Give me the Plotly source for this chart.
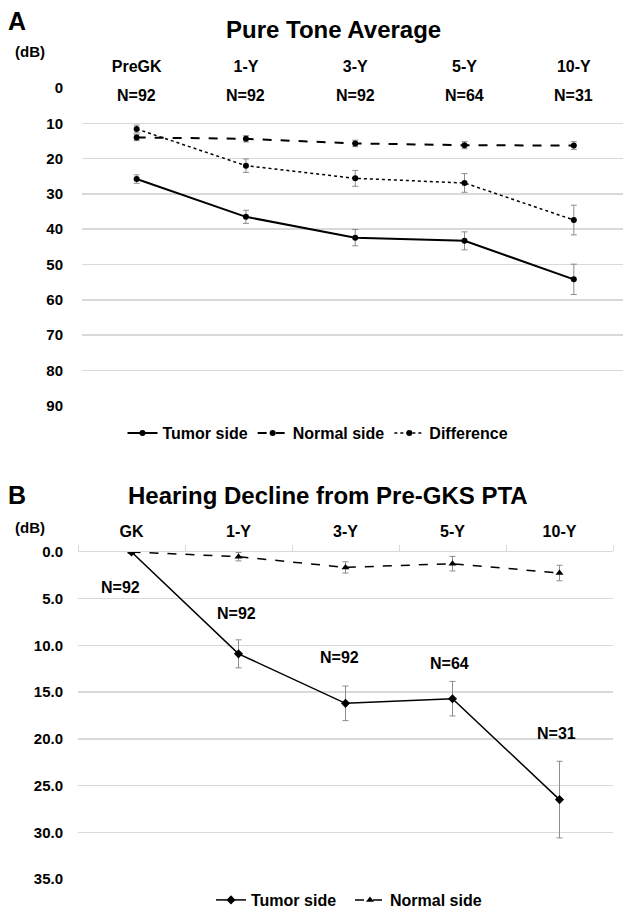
import plotly.graph_objects as go

# ---------------- Data ----------------
cats_a = ["PreGK", "1-Y", "3-Y", "5-Y", "10-Y"]
n_labels = ["N=92", "N=92", "N=92", "N=64", "N=31"]

tumor_a = [25.8, 36.5, 42.4, 43.3, 54.2]
tumor_a_err = [1.2, 1.85, 2.3, 2.55, 4.3]
normal_a = [14.0, 14.4, 15.7, 16.2, 16.3]
normal_a_err = [0.9, 0.9, 0.9, 1.0, 1.1]
diff_a = [11.6, 22.0, 25.6, 26.9, 37.4]
diff_a_err = [1.1, 1.9, 2.25, 2.65, 4.2]

cats_b = ["GK", "1-Y", "3-Y", "5-Y", "10-Y"]
tumor_b = [0.0, 10.9, 16.2, 15.7, 26.5]
tumor_b_err = [0.0, 1.5, 1.85, 1.85, 4.1]
normal_b = [0.0, 0.5, 1.65, 1.25, 2.25]
normal_b_err = [0.0, 0.45, 0.6, 0.78, 0.83]
n_label_y_b = [3.85, 6.6, 11.3, 11.9, 19.4]

yticks_a = [0, 10, 20, 30, 40, 50, 60, 70, 80, 90]
yticks_b = [0, 5, 10, 15, 20, 25, 30, 35]

W, H = 623, 912
FONT = "Liberation Sans, Arial, sans-serif"
GRID = "#d9d9d9"
ERR = "#8c8c8c"

def py(p):
    return 1 - p / H

fig = go.Figure()

# Panel A
fig.add_trace(go.Scatter(
    x=cats_a, y=tumor_a, name="Tumor side", mode="lines+markers",
    line=dict(color="black", width=2), marker=dict(symbol="circle", size=6, color="black"),
    error_y=dict(type="data", array=tumor_a_err, color=ERR, thickness=1, width=3),
    xaxis="x", yaxis="y", legend="legend"))
fig.add_trace(go.Scatter(
    x=cats_a, y=normal_a, name="Normal side", mode="lines+markers",
    line=dict(color="black", width=2, dash="dash"), marker=dict(symbol="circle", size=6, color="black"),
    error_y=dict(type="data", array=normal_a_err, color=ERR, thickness=1, width=3),
    xaxis="x", yaxis="y", legend="legend"))
fig.add_trace(go.Scatter(
    x=cats_a, y=diff_a, name="Difference", mode="lines+markers",
    line=dict(color="black", width=1.5, dash="dot"), marker=dict(symbol="circle", size=6, color="black"),
    error_y=dict(type="data", array=diff_a_err, color=ERR, thickness=1, width=3),
    xaxis="x", yaxis="y", legend="legend"))

# Panel B
fig.add_trace(go.Scatter(
    x=cats_b, y=tumor_b, name="Tumor side", mode="lines+markers",
    line=dict(color="black", width=1.5), marker=dict(symbol="diamond", size=7, color="black"),
    error_y=dict(type="data", array=tumor_b_err, color=ERR, thickness=1, width=3),
    xaxis="x2", yaxis="y2", legend="legend2"))
fig.add_trace(go.Scatter(
    x=cats_b, y=normal_b, name="Normal side", mode="lines+markers",
    line=dict(color="black", width=1.5, dash="dash"), marker=dict(symbol="triangle-up", size=7, color="black"),
    error_y=dict(type="data", array=normal_b_err, color=ERR, thickness=1, width=3),
    xaxis="x2", yaxis="y2", legend="legend2"))

ann = []
# N labels panel A
for c, t in zip(cats_a, n_labels):
    ann.append(dict(x=c, y=2.2, xref="x", yref="y", text="<b>" + t + "</b>", showarrow=False,
                    font=dict(size=16, family=FONT, color="black"), yanchor="middle"))
# N labels panel B
shifts_b = [-11, -2, -6, -3, -3]
for c, t, yy, s in zip(cats_b, n_labels, n_label_y_b, shifts_b):
    ann.append(dict(x=c, y=yy, xref="x2", yref="y2", text="<b>" + t + "</b>", showarrow=False, xshift=s,
                    font=dict(size=16, family=FONT, color="black"), yanchor="middle"))

# Titles and panel letters
ann += [
    dict(x=333 / W, y=py(29), xref="paper", yref="paper", text="<b>Pure Tone Average</b>",
         showarrow=False, font=dict(size=24, family=FONT, color="black"), yanchor="middle"),
    dict(x=6 / W, y=py(21), xref="paper", yref="paper", text="<b>A</b>", xanchor="left",
         showarrow=False, font=dict(size=25, family=FONT, color="black"), yanchor="middle"),
    dict(x=13 / W, y=py(52), xref="paper", yref="paper", text="<b>(dB)</b>", xanchor="left",
         showarrow=False, font=dict(size=15, family=FONT, color="black"), yanchor="middle"),
    dict(x=328 / W, y=py(495), xref="paper", yref="paper", text="<b>Hearing Decline from Pre-GKS PTA</b>",
         showarrow=False, font=dict(size=24, family=FONT, color="black"), yanchor="middle"),
    dict(x=6 / W, y=py(495), xref="paper", yref="paper", text="<b>B</b>", xanchor="left",
         showarrow=False, font=dict(size=25, family=FONT, color="black"), yanchor="middle"),
    dict(x=13 / W, y=py(527), xref="paper", yref="paper", text="<b>(dB)</b>", xanchor="left",
         showarrow=False, font=dict(size=15, family=FONT, color="black"), yanchor="middle"),
]

tickfont = dict(size=16, family=FONT, color="black", weight="bold")
ytickfont = dict(size=15, family=FONT, color="black", weight="bold")

fig.update_layout(
    width=W, height=H,
    margin=dict(l=0, r=0, t=0, b=0, autoexpand=False),
    paper_bgcolor="white", plot_bgcolor="white",
    font=dict(family=FONT, color="black"),
    annotations=ann,
    hovermode=False,
    xaxis=dict(domain=[82 / W, 1.0], range=[-0.5, 4.45], side="top", type="category",
               anchor="y", showgrid=False, zeroline=False, showline=False, ticks="",
               tickfont=tickfont, ticklabelstandoff=12, automargin=False, fixedrange=True),
    yaxis=dict(domain=[py(405.7), py(88)], range=[90, 0], anchor="x", tickvals=yticks_a,
               showgrid=True, gridcolor=GRID, gridwidth=1.5, zeroline=False, showline=False,
               ticks="", tickfont=ytickfont, ticklabelstandoff=18, automargin=False),
    xaxis2=dict(domain=[78 / W, 613 / W], range=[-0.5, 4.5], side="top", type="category",
                anchor="y2", showgrid=False, zeroline=False, showline=True, linecolor=GRID,
                linewidth=1.5, ticks="outside", tickson="boundaries", ticklen=6, tickcolor=GRID,
                tickfont=tickfont, ticklabelstandoff=7, automargin=False),
    yaxis2=dict(domain=[py(879), py(552)], range=[35, 0], anchor="x2", tickvals=yticks_b,
                tickformat=".1f", showgrid=True, gridcolor=GRID, gridwidth=1.5, zeroline=False,
                showline=False, ticks="", tickfont=ytickfont, ticklabelstandoff=14, automargin=False),
    legend=dict(orientation="h", x=318 / W, xanchor="center", y=py(433), yanchor="middle",
                font=dict(size=16, family=FONT, color="black", weight="bold"),
                itemwidth=30, tracegroupgap=0, bgcolor="rgba(0,0,0,0)"),
    legend2=dict(orientation="h", x=350 / W, xanchor="center", y=py(900), yanchor="middle",
                 font=dict(size=16, family=FONT, color="black", weight="bold"),
                 itemwidth=30, tracegroupgap=0, entrywidth=94, entrywidthmode="pixels",
                 bgcolor="rgba(0,0,0,0)"),
)

fig.write_html("out.html", config={"displayModeBar": False, "staticPlot": True},
               post_script="document.body.style.margin='0';document.body.style.overflow='hidden';")
